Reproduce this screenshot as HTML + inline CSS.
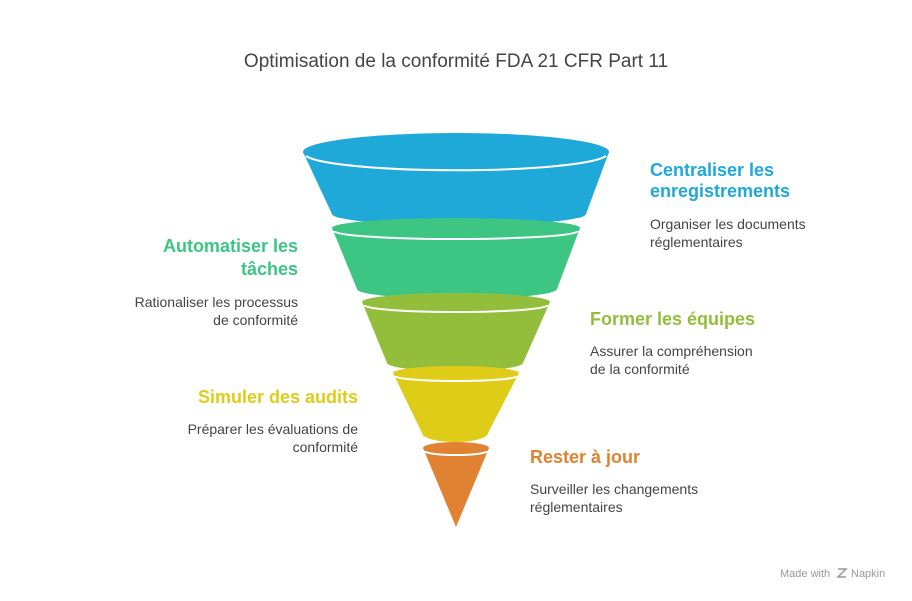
<!DOCTYPE html>
<html><head><meta charset="utf-8"><style>
html,body{margin:0;padding:0;background:#fff;}
svg{display:block;font-family:"Liberation Sans",sans-serif;}
.h{font-size:18px;font-weight:bold;}
.d{font-size:14px;fill:#444;}
</style></head><body>
<svg width="912" height="601" viewBox="0 0 912 601">
<text x="456" y="67" text-anchor="middle" font-size="19" fill="#444">Optimisation de la conformité FDA 21 CFR Part 11</text>

<path d="M303,152 L332,214 A124,11 0 0 0 586,214 L609,152 Z" fill="#1fa9d9"/>
<ellipse cx="456" cy="152" rx="153" ry="19" fill="#1fa9d9"/>
<path d="M306,156 A152,17 0 0 0 606,156" fill="none" stroke="#fff" stroke-width="2"/>

<path d="M332,228 L357,289 A100,10 0 0 0 557,289 L580,228 Z" fill="#3dc584"/>
<ellipse cx="456" cy="228" rx="124" ry="10" fill="#3dc584"/>
<path d="M334,231 A122,8 0 0 0 578,231" fill="none" stroke="#fff" stroke-width="2"/>

<path d="M362,302 L387,363 A68,8 0 0 0 523,363 L550,302 Z" fill="#93be3b"/>
<ellipse cx="456" cy="302" rx="94" ry="9" fill="#93be3b"/>
<path d="M364,305 A92,7 0 0 0 548,305" fill="none" stroke="#fff" stroke-width="2"/>

<path d="M393,373 L422,433 A33,9 0 0 0 488,433 L519,373 Z" fill="#dfcc18"/>
<ellipse cx="456" cy="373" rx="63" ry="7" fill="#dfcc18"/>
<path d="M395,376 A61,5 0 0 0 517,376" fill="none" stroke="#fff" stroke-width="2"/>

<path d="M423,448 L456,527 L489,448 Z" fill="#e08231"/>
<ellipse cx="456" cy="448" rx="33" ry="6" fill="#e08231"/>
<path d="M425,451 A31,4 0 0 0 487,451" fill="none" stroke="#fff" stroke-width="2"/>

<text class="h" x="650" y="176" fill="#1fa9d9">Centraliser les</text>
<text class="h" x="650" y="197" fill="#1fa9d9">enregistrements</text>
<text class="d" x="650" y="229">Organiser les documents</text>
<text class="d" x="650" y="247">réglementaires</text>

<text class="h" x="298" y="252" text-anchor="end" fill="#3dc584">Automatiser les</text>
<text class="h" x="298" y="275" text-anchor="end" fill="#3dc584">tâches</text>
<text class="d" x="298" y="307" text-anchor="end">Rationaliser les processus</text>
<text class="d" x="298" y="325" text-anchor="end">de conformité</text>

<text class="h" x="590" y="325" fill="#93be3b">Former les équipes</text>
<text class="d" x="590" y="356">Assurer la compréhension</text>
<text class="d" x="590" y="374">de la conformité</text>

<text class="h" x="358" y="403" text-anchor="end" fill="#dfcc18">Simuler des audits</text>
<text class="d" x="358" y="434" text-anchor="end">Préparer les évaluations de</text>
<text class="d" x="358" y="452" text-anchor="end">conformité</text>

<text class="h" x="530" y="463" fill="#e08231">Rester à jour</text>
<text class="d" x="530" y="494">Surveiller les changements</text>
<text class="d" x="530" y="512">réglementaires</text>

<text x="780" y="577" font-size="11" fill="#999">Made with</text>
<text x="851" y="577" font-size="11" fill="#999">Napkin</text>
<path d="M838,569 l8,0 l-8,8 l8,0" fill="none" stroke="#999" stroke-width="1.5"/>
</svg>
</body></html>
